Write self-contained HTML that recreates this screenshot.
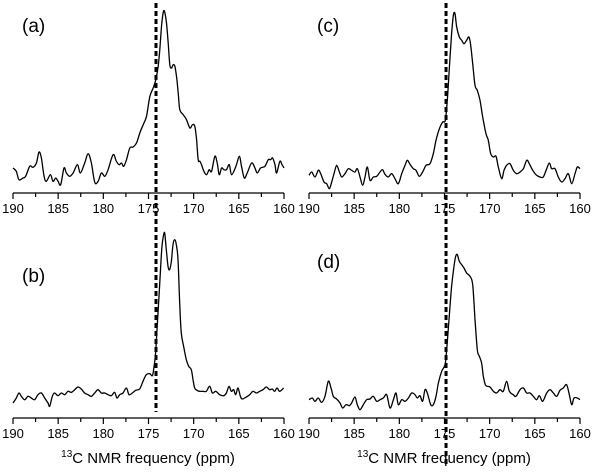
<!DOCTYPE html>
<html><head><meta charset="utf-8">
<style>
body{margin:0;background:#fff;}
svg{display:block;font-family:"Liberation Sans",sans-serif;}
</style></head>
<body>
<svg id="chart" width="600" height="476" viewBox="0 0 600 476"></svg>
<script>
const ppmA=[190.0,189.63,189.34,188.89,188.6,188.15,187.78,187.41,187.12,186.86,186.56,186.31,185.86,185.57,185.27,185.01,184.72,184.35,184.09,183.72,183.35,182.87,182.54,182.06,181.69,181.32,180.95,180.58,180.21,179.84,179.47,178.92,178.55,178.25,177.99,177.74,177.44,177.07,176.70,176.33,175.96,175.59,175.22,174.85,174.48,174.19,173.93,173.75,173.56,173.38,173.23,173.01,172.82,172.64,172.45,172.27,172.08,171.90,171.71,171.53,171.16,170.79,170.42,170.13,169.87,169.68,169.50,169.31,169.13,168.87,168.57,168.28,168.02,167.65,167.39,167.17,166.91,166.65,166.36,166.06,165.80,165.32,164.95,164.70,164.40,164.07,163.59,163.22,162.96,162.59,162.11,161.74,161.48,161.26,161.00,160.82,160.45,160.22,160.00];
const intA=[75,65,40,45,50,80,77,90,123,105,50,35,55,35,45,35,25,75,60,50,60,85,60,90,118,90,32,35,60,50,70,115,95,85,90,80,100,135,138,150,180,205,230,290,315,340,380,430,500,540,545,510,450,385,375,385,380,350,300,250,235,220,195,205,200,160,100,95,85,65,55,70,65,110,90,55,75,70,70,85,55,80,110,80,45,60,90,75,60,75,80,100,100,105,85,60,95,85,75];
const ppmB=[190.0,189.63,189.34,189.08,188.71,188.34,187.97,187.60,187.23,186.86,186.49,186.13,185.94,185.65,185.39,185.02,184.65,184.28,183.91,183.54,183.17,182.80,182.44,182.07,181.70,181.33,180.96,180.59,180.22,179.85,179.48,179.11,178.75,178.49,178.19,177.82,177.45,177.16,176.79,176.42,175.98,175.61,175.24,174.87,174.58,174.43,174.21,174.06,173.84,173.65,173.51,173.36,173.21,173.03,172.84,172.66,172.47,172.29,172.10,171.92,171.73,171.55,171.37,171.11,170.81,170.55,170.26,170.07,169.89,169.63,169.34,168.97,168.60,168.23,167.93,167.56,167.12,166.68,166.38,166.09,165.83,165.57,165.35,165.09,164.83,164.61,164.17,163.80,163.43,163.06,162.69,162.32,161.96,161.59,161.29,161.03,160.77,160.48,160.04];
const intB=[45,60,75,65,55,65,60,55,70,75,60,45,35,65,75,67,75,70,80,77,85,93,87,75,70,65,75,85,75,75,70,67,77,60,70,75,90,70,75,83,87,110,130,133,127,145,195,265,365,455,515,545,555,505,455,445,470,520,535,520,475,345,255,215,175,155,145,115,90,83,80,80,80,95,75,80,70,67,75,95,80,85,70,90,65,57,63,70,80,75,80,85,93,85,87,80,90,80,90];
const ppmC=[190.0,189.70,189.34,188.97,188.71,188.34,188.04,187.75,187.49,187.23,186.94,186.64,186.38,186.01,185.65,185.28,184.91,184.65,184.35,184.06,183.80,183.54,183.25,182.88,182.51,182.14,181.85,181.59,181.22,180.85,180.48,180.11,179.74,179.37,179.11,178.82,178.45,178.15,177.79,177.42,177.05,176.61,176.24,175.94,175.57,175.20,174.91,174.69,174.46,174.21,174.02,173.84,173.65,173.36,173.10,172.84,172.55,172.29,172.10,171.88,171.62,171.37,171.07,170.77,170.41,170.15,169.89,169.59,169.30,169.04,168.67,168.41,168.12,167.75,167.38,167.01,166.64,166.27,165.90,165.61,165.24,164.80,164.43,164.06,163.69,163.39,163.14,162.77,162.40,162.03,161.66,161.29,160.92,160.55,160.30,160.0];
const intC=[53,63,48,68,58,33,28,13,33,58,83,63,48,58,73,68,63,73,48,23,48,78,38,48,50,63,70,56,48,58,43,28,58,83,98,86,73,68,50,63,83,88,118,158,193,213,218,278,378,478,533,538,498,468,458,448,458,468,443,388,323,308,278,228,178,158,118,108,110,78,43,68,83,88,68,58,63,73,98,88,68,53,48,48,73,90,73,73,48,33,43,58,28,58,78,73];
const ppmD=[190.0,189.63,189.34,188.97,188.60,188.23,187.86,187.56,187.31,186.94,186.57,186.27,185.90,185.54,185.28,184.91,184.65,184.35,183.99,183.62,183.25,182.88,182.51,182.14,181.77,181.40,181.03,180.66,180.37,180.11,179.74,179.37,179.00,178.63,178.27,178.01,177.71,177.42,177.16,176.90,176.53,176.24,175.94,175.68,175.31,174.94,174.76,174.50,174.21,173.95,173.76,173.58,173.36,173.10,172.84,172.55,172.18,171.88,171.62,171.37,171.14,170.89,170.70,170.48,170.26,169.96,169.59,169.23,168.86,168.49,168.12,167.82,167.38,167.08,166.64,166.27,165.90,165.54,165.17,164.80,164.50,164.13,163.69,163.32,162.95,162.58,162.21,161.85,161.48,161.18,160.92,160.66,160.30,160.0];
const intD=[55,60,50,60,47,65,110,90,65,57,45,30,40,37,45,63,40,25,40,55,57,65,50,55,60,70,30,55,75,40,55,50,60,75,70,60,67,50,85,75,40,40,65,105,140,160,205,295,395,455,485,490,470,460,450,435,425,400,295,205,185,165,125,100,95,93,80,75,85,80,110,80,70,65,85,90,75,75,65,55,67,50,75,85,75,65,83,90,100,70,40,60,60,55];
const tickLabels=[190,185,180,175,170,165,160];
const refLeft=174.17, refRight=174.83;

const NS='http://www.w3.org/2000/svg';
const svg=document.getElementById('chart');
function mk(tag,attrs,parent){const e=document.createElementNS(NS,tag);for(const k in attrs)e.setAttribute(k,attrs[k]);(parent||svg).appendChild(e);return e;}

const panels=[
 {id:'a',x0:13,axisY:193,ppm:ppmA,val:intA,lx:22,ly:26},
 {id:'b',x0:13,axisY:418,ppm:ppmB,val:intB,lx:22,ly:276},
 {id:'c',x0:309,axisY:193,ppm:ppmC,val:intC,lx:317,ly:26},
 {id:'d',x0:309,axisY:418,ppm:ppmD,val:intD,lx:317,ly:262}
];
const W=271;
function xs(p,ppm){return p.x0+(190-ppm)*W/30;}
function ys(p,v){return p.axisY-v/3;}
function smooth(pts){
  let d='M'+pts[0][0].toFixed(1)+','+pts[0][1].toFixed(1);
  for(let i=0;i<pts.length-1;i++){
    const p0=pts[Math.max(0,i-1)],p1=pts[i],p2=pts[i+1],p3=pts[Math.min(pts.length-1,i+2)];
    const c1x=p1[0]+(p2[0]-p0[0])/6,c1y=p1[1]+(p2[1]-p0[1])/6;
    const c2x=p2[0]-(p3[0]-p1[0])/6,c2y=p2[1]-(p3[1]-p1[1])/6;
    d+='C'+c1x.toFixed(1)+','+c1y.toFixed(1)+' '+c2x.toFixed(1)+','+c2y.toFixed(1)+' '+p2[0].toFixed(1)+','+p2[1].toFixed(1);
  }
  return d;
}

panels.forEach(p=>{
  const g=mk('g',{});
  
  
  const ax=mk('line',{x1:p.x0,x2:p.x0+W,y1:p.axisY,y2:p.axisY,stroke:'#000','stroke-width':1.3},g);
  
  
  for(let t=190;t>=160;t-=2.5){
    const major=(t%5===0);
    const tk=mk('line',{x1:xs(p,t),x2:xs(p,t),y1:p.axisY,y2:p.axisY+(major?6:4),stroke:'#000','stroke-width':1.2},g);
    
    
  }
  tickLabels.forEach(t=>{
    const tl=mk('text',{x:xs(p,t),y:p.axisY+20,'text-anchor':'middle','font-size':13,fill:'#000'},g);
    tl.textContent=t;
    
    
  });
  const pts=p.ppm.map((q,i)=>[xs(p,q),ys(p,p.val[i])]);
  const path=mk('path',{d:smooth(pts),fill:'none',stroke:'#000','stroke-width':1.3,'stroke-linejoin':'round'},g);
  
  
  const lb=mk('text',{x:p.lx,y:p.ly+6,'font-size':19,fill:'#000'},g);
  lb.textContent='('+p.id+')';
  
  
});

const dl=mk('line',{x1:xs(panels[0],refLeft),x2:xs(panels[0],refLeft),y1:3,y2:412,stroke:'#000','stroke-width':3,'stroke-dasharray':'5,3'});


const dr=mk('line',{x1:xs(panels[2],refRight),x2:xs(panels[2],refRight),y1:3,y2:466,stroke:'#000','stroke-width':3,'stroke-dasharray':'5,3'});



[148,444].forEach((cx,i)=>{
  const t=mk('text',{x:cx,y:463,'text-anchor':'middle','font-size':15,fill:'#000'});
  t.innerHTML='<tspan font-size="10" dy="-6">13</tspan><tspan dy="6">C NMR frequency (ppm)</tspan>';
  
  
});
</script>
</body></html>
